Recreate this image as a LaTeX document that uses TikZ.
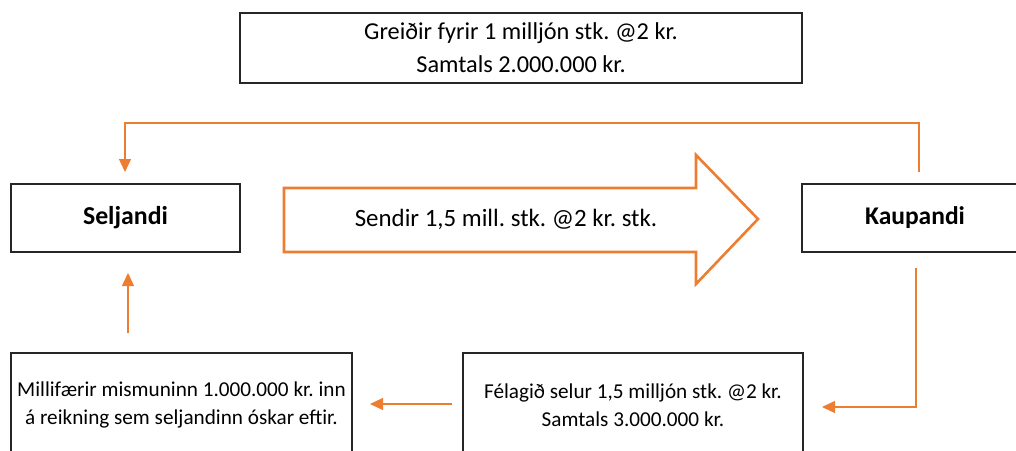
\documentclass[tikz,border=0pt]{standalone}
\usepackage{fontspec}
\setmainfont{Carlito}
\frenchspacing
\usetikzlibrary{arrows.meta}
\definecolor{ora}{RGB}{237,125,49}
\begin{document}
\begin{tikzpicture}[x=1pt,y=-1pt,
  box/.style={draw=black!85,line width=1.3pt,fill=white,inner sep=0pt,align=center,font=\fontsize{21.2}{28}\selectfont},
  bold box/.style={box,font=\fontsize{25.8}{30}\selectfont\bfseries},
  conn/.style={draw=ora,line width=1.3pt,-{Triangle[width=12pt,length=13pt]}}]
\useasboundingbox (0,0) rectangle (1016,450);
\clip (0,0) rectangle (1016,450);
\node[box,minimum width=562pt,minimum height=70pt,font=\fontsize{24.3}{33}\selectfont] (top) at (521,48) {Greiðir fyrir 1 milljón stk. @2 kr.\\Samtals 2.000.000 kr.};
\node[bold box,minimum width=229pt,minimum height=68pt] (sel) at (125.5,218) {Seljandi};
\node[box,minimum width=220pt,minimum height=68pt] (kbox) at (912,218) {};
\node[font=\fontsize{25.5}{30}\selectfont\bfseries] (kau) at (915,218) {Kaupandi};
\node[box,minimum width=341pt,minimum height=104pt] (ml) at (181.5,405) {Millifærir mismuninn 1.000.000 kr. inn\\á reikning sem seljandinn óskar eftir.};
\node[box,minimum width=340pt,minimum height=104pt] (fel) at (633,405) {Félagið selur 1,5 milljón stk. @2 kr.\\Samtals 3.000.000 kr.};
% block arrow
\draw[ora,line width=2.6pt,line join=miter,fill=white] (284,188) -- (696,188) -- (696,155) -- (758,219) -- (696,284) -- (696,252) -- (284,252) -- cycle;
\node[font=\fontsize{24.9}{28}\selectfont] (send) at (506,219) {Sendir 1,5 mill. stk. @2 kr. stk.};
% connectors
\coordinate (kt) at (919,172);
\coordinate (st) at (125,172);
\coordinate (kb) at (916,268);
\coordinate (fr) at (822,407);
\coordinate (fl) at (452,404);
\coordinate (mr) at (370,404);
\coordinate (mt) at (128,333);
\coordinate (sb) at (128,273);
\draw[conn] (kt) |- (125,123) -- (st);
\draw[conn] (kb) |- (fr);
\draw[conn] (fl) -- (mr);
\draw[conn] (mt) -- (sb);
\end{tikzpicture}
\end{document}
